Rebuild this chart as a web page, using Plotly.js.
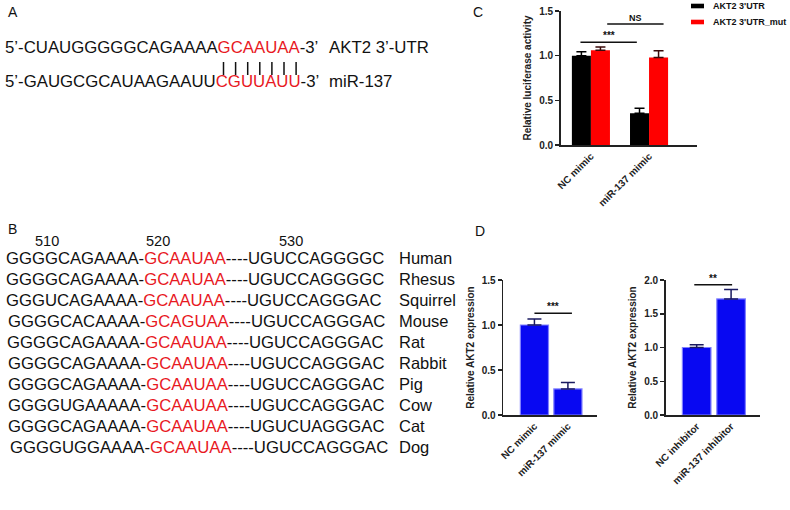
<!DOCTYPE html>
<html>
<head>
<meta charset="utf-8">
<script src="https://cdn.plot.ly/plotly-3.0.1.min.js"></script>
<style>
  body { margin: 0; background: #fff; }
  #fig { width: 790px; height: 510px; }
</style>
</head>
<body>
<div id="fig"></div>
<script>
// ---- panel A: seed pairing ----
var utrSeq = ['5\u2019-CUAUGGGGGCAGAAAA', 'GCAAUAA', '-3\u2019'];
var mirSeq = ['5\u2019-GAUGCGCAUAAGAAUU', 'CGUUAUU', '-3\u2019'];
var pairNames = ['AKT2 3\u2019-UTR', 'miR-137'];

// ---- panel B: conservation ----
var species = ['Human', 'Rhesus', 'Squirrel', 'Mouse', 'Rat', 'Rabbit', 'Pig', 'Cow', 'Cat', 'Dog'];
var seqHead = ['GGGGCAGAAAA', 'GGGGCAGAAAA', 'GGGUCAGAAAA', 'GGGGCACAAAA', 'GGGGCAGAAAA',
               'GGGGCAGAAAA', 'GGGGCAGAAAA', 'GGGGUGAAAAA', 'GGGGCAGAAAA', 'GGGGUGGAAAA'];
var seqSite = ['GCAAUAA', 'GCAAUAA', 'GCAAUAA', 'GCAGUAA', 'GCAAUAA',
               'GCAAUAA', 'GCAAUAA', 'GCAAUAA', 'GCAAUAA', 'GCAAUAA'];
var seqTail = ['UGUCCAGGGGC', 'UGUCCAGGGGC', 'UGUCCAGGGAC', 'UGUCCAGGGAC', 'UGUCCAGGGAC',
               'UGUCCAGGGAC', 'UGUCCAGGGAC', 'UGUCCAGGGAC', 'UGUCUAGGGAC', 'UGUCCAGGGAC'];
var positions = ['510', '520', '530'];

// ---- panel C: luciferase ----
var lucGroups = ['NC mimic', 'miR-137 mimic'];
var lucWT = [1.0, 0.355];
var lucWTerr = [0.044, 0.055];
var lucMut = [1.06, 0.98];
var lucMutErr = [0.037, 0.075];

// ---- panel D: AKT2 expression ----
var mimicGroups = ['NC mimic', 'miR-137 mimic'];
var mimicExpr = [1.0, 0.29];
var mimicErr = [0.067, 0.07];
var inhibGroups = ['NC inhibitor', 'miR-137 inhibitor'];
var inhibExpr = [1.0, 1.72];
var inhibErr = [0.04, 0.14];

var RED = '#e8191f';
var FONT = 'Arial, "Liberation Sans", sans-serif';
function px(x) { return x / 790; }
function py(y) { return 1 - y / 510; }

function upErr(arr, color, w) {
  return { type: 'data', symmetric: false, array: arr, arrayminus: arr.map(function () { return 0; }),
           color: color, thickness: 1.5, width: w };
}

var data = [
  { type: 'bar', x: lucGroups, y: lucWT, name: 'AKT2 3\'UTR', xaxis: 'x', yaxis: 'y',
    marker: { color: '#000' }, error_y: upErr(lucWTerr, '#000', 5) },
  { type: 'bar', x: lucGroups, y: lucMut, name: 'AKT2 3\'UTR_mut', xaxis: 'x', yaxis: 'y',
    marker: { color: '#ff0000' }, error_y: upErr(lucMutErr, '#3a0a0a', 5) },
  { type: 'bar', x: mimicGroups, y: mimicExpr, xaxis: 'x2', yaxis: 'y2', width: 0.84,
    marker: { color: '#0808f2', line: { color: '#8080ff', width: 1.2 } }, error_y: upErr(mimicErr, '#1a1a60', 7) },
  { type: 'bar', x: inhibGroups, y: inhibExpr, xaxis: 'x3', yaxis: 'y3', width: 0.83,
    marker: { color: '#0808f2', line: { color: '#8080ff', width: 1.2 } }, error_y: upErr(inhibErr, '#1a1a60', 7) }
];

var tickF = { family: FONT, size: 10, color: '#222', weight: 'bold' };
function xax(dom, rng) {
  return { domain: dom, range: rng, type: 'category', showline: true, linewidth: 1.6, linecolor: '#222',
           ticks: '', tickangle: -45, tickfont: tickF, showgrid: false, zeroline: false, fixedrange: true };
}
function yax(dom, rng, vals, title, anchor) {
  return { domain: dom, range: rng, anchor: anchor, tickvals: vals, tickformat: '.1f', showline: true,
           linewidth: 1.6, linecolor: '#222', ticks: 'outside', ticklen: 4, tickwidth: 1.5, tickcolor: '#222',
           tickfont: tickF, showgrid: false, zeroline: false,
           title: { text: title, standoff: 5, font: { family: FONT, size: 10, color: '#222', weight: 'bold' } } };
}

var layout = {
  width: 790, height: 510,
  margin: { l: 0, r: 0, t: 0, b: 0 },
  paper_bgcolor: '#fff', plot_bgcolor: 'rgba(0,0,0,0)',
  showlegend: false,
  barmode: 'group', bargap: 0.345, bargroupgap: 0,
  xaxis: xax([px(560.7), px(696.7)], [-0.52, 1.82]),
  yaxis: yax([py(145), py(11)], [0, 1.5], [0, 0.5, 1, 1.5], 'Relative luciferase activity', 'x'),
  xaxis2: Object.assign(xax([px(503.3), px(596.7)], [-0.93, 1.86]), { anchor: 'y2' }),
  yaxis2: yax([py(415), py(280)], [0, 1.5], [0, 0.5, 1, 1.5], 'Relative AKT2 expression', 'x2'),
  xaxis3: Object.assign(xax([px(665.7), px(760)], [-0.9, 1.84]), { anchor: 'y3' }),
  yaxis3: yax([py(415), py(280)], [0, 2], [0, 0.5, 1, 1.5, 2], 'Relative AKT2 expression', 'x3'),
  shapes: [],
  annotations: []
};

var ann = layout.annotations, shp = layout.shapes;
function txt(x, y, t, size, opts) {
  ann.push(Object.assign({ xref: 'paper', yref: 'paper', x: px(x), y: py(y), text: t, showarrow: false,
    xanchor: 'left', yanchor: 'middle', borderpad: 0,
    font: { family: FONT, size: size, color: '#111' } }, opts || {}));
}
function red(s) { return '<span style="color:' + RED + '">' + s + '</span>'; }

// panel letters
txt(7, 12, 'A', 14);
txt(7, 229, 'B', 14);
txt(472, 12, 'C', 14);
txt(474, 231, 'D', 14);

// panel A
txt(4, 47, utrSeq[0] + red(utrSeq[1]) + utrSeq[2], 16.8);
txt(4, 82, mirSeq[0] + red(mirSeq[1]) + mirSeq[2], 16.8);
txt(328, 47, pairNames[0], 16.8);
txt(328, 82, pairNames[1], 16.8);
for (var i = 0; i < 7; i++) {
  var bx = 223.5 + i * 12.1;
  shp.push({ type: 'line', xref: 'paper', yref: 'paper', x0: px(bx), x1: px(bx), y0: py(62), y1: py(75),
             line: { color: '#111', width: 1.5 } });
}

// panel B
var posX = [47, 158, 291];
positions.forEach(function (p, i) { txt(posX[i], 241, p, 14.5, { xanchor: 'center' }); });
var indent = [5, 5, 5, 7, 6, 7, 7, 7, 7, 9];
species.forEach(function (s, i) {
  var y = 258 + i * 21;
  txt(indent[i], y, seqHead[i] + '-' + red(seqSite[i]) + '----' + seqTail[i], 16.7);
  txt(398, y, s, 16.5);
});

// panel C legend
function legendItem(y, color, label) {
  shp.push({ type: 'rect', xref: 'paper', yref: 'paper', x0: px(691), x1: px(704), y0: py(y + 2.3), y1: py(y - 2.3),
             fillcolor: color, line: { width: 0 } });
  txt(712, y, label, 9, { font: { family: FONT, size: 9, color: '#111', weight: 'bold' } });
}
legendItem(6, '#000', data[0].name);
legendItem(22, '#ff0000', data[1].name);

// significance brackets
function bracket(xa, ya, x0, x1, y, label) {
  shp.push({ type: 'line', xref: xa, yref: ya, x0: x0, x1: x1, y0: y, y1: y, line: { color: '#111', width: 1.5 } });
  ann.push({ xref: xa, yref: ya, x: (x0 + x1) / 2, y: y, text: label, showarrow: false, yanchor: 'bottom', yshift: -1,
             font: { family: FONT, size: label === 'NS' ? 9 : 10, color: '#111', weight: 'bold' } });
}
bracket('x', 'y', -0.18, 0.79, 1.15, '***');
bracket('x', 'y', 0.28, 1.25, 1.355, 'NS');
bracket('x2', 'y2', 0.0, 1.12, 1.13, '***');
bracket('x3', 'y3', -0.07, 1.03, 1.93, '**');

Plotly.newPlot('fig', data, layout, { displayModeBar: false, staticPlot: true });
</script>
</body>
</html>
